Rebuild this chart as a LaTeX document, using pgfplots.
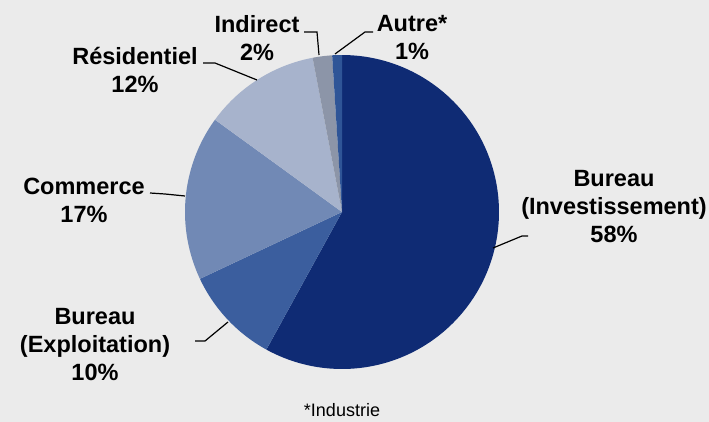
\documentclass[border=0pt]{standalone}
\usepackage{pgfplots}
\pgfplotsset{compat=1.18}
\usepackage{fontspec}
\setmainfont{Liberation Sans}
\definecolor{bg}{HTML}{EBEBEB}
\definecolor{cInv}{HTML}{0F2B74}
\definecolor{cExp}{HTML}{3B5E9E}
\definecolor{cCom}{HTML}{7189B5}
\definecolor{cRes}{HTML}{A7B3CC}
\definecolor{cInd}{HTML}{8C95A8}
\definecolor{cAut}{HTML}{2F5597}
\tikzset{lab/.style={font=\bfseries\fontsize{23.5}{28}\selectfont, align=center, text=black, inner sep=0pt}}
\begin{document}
\begin{tikzpicture}
\def\cx{342}\def\cy{212}\def\R{157}
% shares in percent
\def\pInv{58}\def\pExp{10}\def\pCom{17}\def\pRes{12}\def\pInd{2}\def\pAut{1}
\pgfmathsetmacro\aA{90}
\pgfmathsetmacro\aB{\aA-3.6*\pInv}
\pgfmathsetmacro\aC{\aB-3.6*\pExp}
\pgfmathsetmacro\aD{\aC-3.6*\pCom}
\pgfmathsetmacro\aE{\aD-3.6*\pRes}
\pgfmathsetmacro\aF{\aE-3.6*\pInd}
\pgfmathsetmacro\aG{\aF-3.6*\pAut}
\begin{axis}[scale only axis, width=709pt, height=422pt,
  xmin=0, xmax=709, ymin=0, ymax=422, y dir=reverse,
  hide axis, clip=false]
\fill[bg] (rel axis cs:0,0) rectangle (rel axis cs:1,1);
\addplot[fill=cInv, draw=none, domain=\aB:\aA, samples=120, variable=\t] ({\cx+\R*cos(t)},{\cy-\R*sin(t)}) -- (axis cs:\cx,\cy) -- cycle;
\addplot[fill=cExp, draw=none, domain=\aC:\aB, samples=40, variable=\t] ({\cx+\R*cos(t)},{\cy-\R*sin(t)}) -- (axis cs:\cx,\cy) -- cycle;
\addplot[fill=cCom, draw=none, domain=\aD:\aC, samples=50, variable=\t] ({\cx+\R*cos(t)},{\cy-\R*sin(t)}) -- (axis cs:\cx,\cy) -- cycle;
\addplot[fill=cRes, draw=none, domain=\aE:\aD, samples=40, variable=\t] ({\cx+\R*cos(t)},{\cy-\R*sin(t)}) -- (axis cs:\cx,\cy) -- cycle;
\addplot[fill=cInd, draw=none, domain=\aF:\aE, samples=10, variable=\t] ({\cx+\R*cos(t)},{\cy-\R*sin(t)}) -- (axis cs:\cx,\cy) -- cycle;
\addplot[fill=cAut, draw=none, domain=\aG:\aF, samples=10, variable=\t] ({\cx+\R*cos(t)},{\cy-\R*sin(t)}) -- (axis cs:\cx,\cy) -- cycle;
% leader lines
\addplot[black, line width=1.2pt] coordinates {(304,32) (317,32) (319,55)};
\addplot[black, line width=1.2pt] coordinates {(373,32) (365,32) (335,54)};
\addplot[black, line width=1.2pt] coordinates {(203,63) (215,63) (257,80)};
\addplot[black, line width=1.2pt] coordinates {(150,193) (165,194) (185,196)};
\addplot[black, line width=1.2pt] coordinates {(195,341) (205,341) (228,322)};
\addplot[black, line width=1.2pt] coordinates {(528,236) (522,236) (493,248)};
% labels
\node[lab] at (axis cs:257,38) {Indirect\\2\%};
\node[lab] at (axis cs:412,38) {Autre*\\1\%};
\node[lab] at (axis cs:135,70) {Résidentiel\\12\%};
\node[lab] at (axis cs:84,200) {Commerce\\17\%};
\node[lab] at (axis cs:95,345) {Bureau\\(Exploitation)\\10\%};
\node[lab] at (axis cs:614,207) {Bureau\\(Investissement)\\58\%};
\node[font=\fontsize{18}{20}\selectfont, anchor=base, inner sep=0pt] at (axis cs:342,416) {*Industrie};
\end{axis}
\pgfresetboundingbox
\useasboundingbox (0,0) rectangle (709pt,422pt);
\end{tikzpicture}
\end{document}
